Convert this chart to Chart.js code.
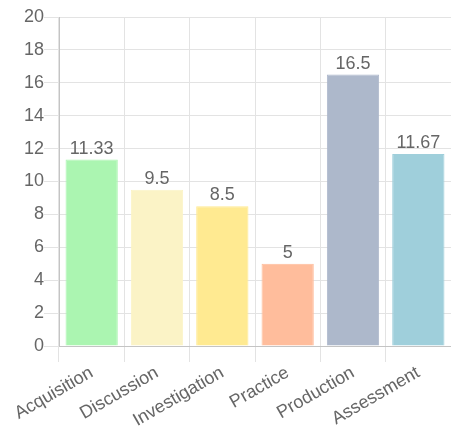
<!DOCTYPE html>
<html>
<head>
<meta charset="utf-8">
<script src="https://cdn.jsdelivr.net/npm/chart.js@4"></script>
<style>
	html, body { margin: 0; padding: 0; background: #fff; }
	#wrap { width: 451px; height: 428px; }
</style>
</head>
<body>
<div id="wrap"><canvas id="barChart"></canvas></div>
<script>
const categories = ["Acquisition", "Discussion", "Investigation", "Practice", "Production", "Assessment"]
const values = [11.33, 9.5, 8.5, 5, 16.5, 11.67]
const barColors = ["#abf5b1", "#fbf3c6", "#ffea91", "#ffbd9c", "#adb8cb", "#9fcfdb"]

Chart.defaults.font.family = "Arial, 'Liberation Sans', sans-serif"
Chart.defaults.font.size = 18
Chart.defaults.color = "#666"

// draw the value above each bar
const valueLabels = {
	id: "valueLabels",
	afterDatasetsDraw(chart) {
		const ctx = chart.ctx
		const meta = chart.getDatasetMeta(0)
		ctx.save()
		ctx.font = "18px Arial, 'Liberation Sans', sans-serif"
		ctx.fillStyle = "#666"
		ctx.textAlign = "center"
		ctx.textBaseline = "bottom"
		meta.data.forEach((bar, i) => {
			ctx.fillText(String(values[i]), bar.x, bar.y - 2)
		})
		ctx.restore()
	}
}

const ctx = document.getElementById("barChart").getContext("2d")
const chart = new Chart(ctx, {
	type: "bar",
	data: {
		labels: categories,
		datasets: [{
			data: values,
			backgroundColor: barColors,
			borderColor: barColors,
			borderWidth: 1,
			barPercentage: 1,
			categoryPercentage: 0.8,
		}],
	},
	options: {
		responsive: true,
		maintainAspectRatio: false,
		animation: false,
		layout: { padding: { top: 17 } },
		plugins: {
			legend: { display: false },
			tooltip: { enabled: false },
		},
		scales: {
			x: {
				grid: { color: "#e3e3e3", tickLength: 16 },
				border: { color: "#c4c4c4" },
				ticks: { minRotation: 30, maxRotation: 30, padding: 0 },
				afterFit: scale => { scale.height = 82 },
			},
			y: {
				min: 0,
				max: 20,
				grid: { color: "#e3e3e3", tickLength: 15 },
				border: { color: "#c4c4c4" },
				ticks: { stepSize: 2, padding: 0 },
				afterFit: scale => { scale.width = 59 },
			},
		},
	},
	plugins: [valueLabels],
})
</script>
</body>
</html>
